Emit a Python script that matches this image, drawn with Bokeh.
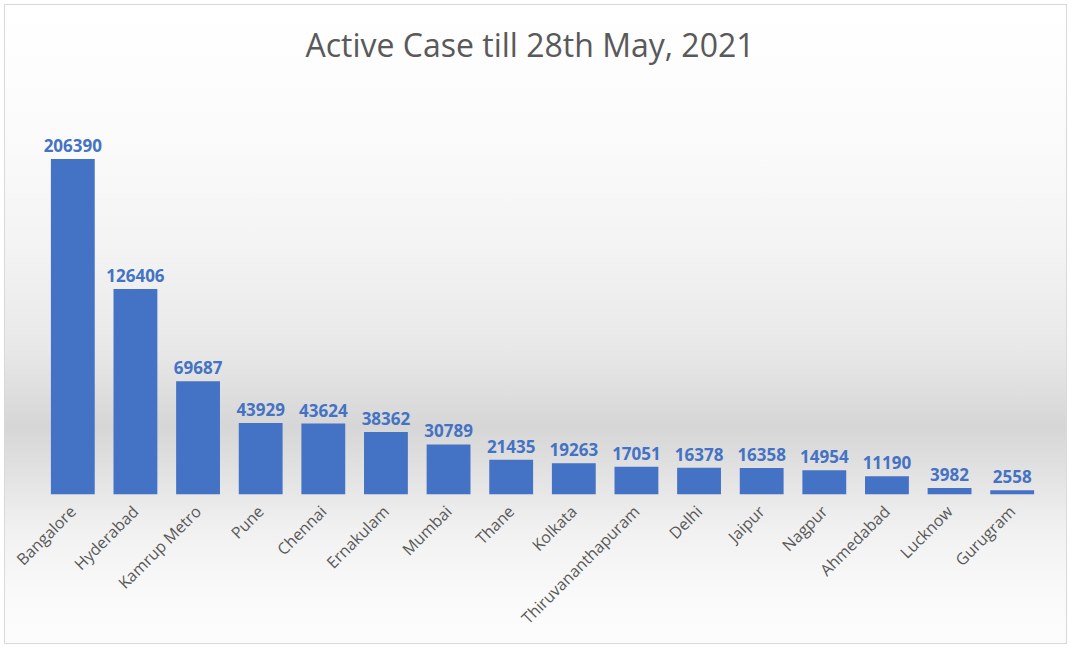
import math
from bokeh.plotting import figure
from bokeh.models import ColumnDataSource, FactorRange, Range1d, LabelSet
from bokeh.core.properties import value
from bokeh.embed import file_html
from bokeh.resources import INLINE

cities = ["Bangalore", "Hyderabad", "Kamrup Metro", "Pune", "Chennai", "Ernakulam",
          "Mumbai", "Thane", "Kolkata", "Thiruvananthapuram", "Delhi", "Jaipur",
          "Nagpur", "Ahmedabad", "Lucknow", "Gurugram"]
active_cases = [206390, 126406, 69687, 43929, 43624, 38362, 30789, 21435,
                19263, 17051, 16378, 16358, 14954, 11190, 3982, 2558]
title_text = "Active Case till 28th May, 2021"

# chart area occupies x 5..1066, y 5..643 of the 1070x652 window
W, H = 1061, 638
FRAME_TOP, FRAME_BOTTOM = 77, 489     # relative to chart area (expected)
FRAME_LEFT, FRAME_RIGHT = 36, 1038

src = ColumnDataSource(dict(city=cities, cases=active_cases,
                            label=[str(v) for v in active_cases]))

ymax = max(active_cases) * (FRAME_BOTTOM - FRAME_TOP) / 334.0

p = figure(width=W, height=H, x_range=FactorRange(factors=cities, range_padding=0),
           y_range=Range1d(0, ymax), output_backend="svg", toolbar_location=None,
           min_border_left=FRAME_LEFT, min_border_right=W - FRAME_RIGHT,
           min_border_top=0, min_border_bottom=H - FRAME_BOTTOM)
p.margin = (5, 4, 9, 5)

p.background_fill_color = None
p.border_fill_color = None
p.outline_line_color = None
p.styles = {
    "background": "linear-gradient(to bottom, #ffffff 0%, #fafafa 22.7%, #f3f3f3 38.4%, "
                  "#e8e8e8 54.1%, #d6d6d6 66.1%, #e4e4e4 74.5%, #f1f1f1 82.3%, "
                  "#fafafa 93.3%, #fcfcfc 100%)",
    "outline": "1px solid #d9d9d9",
}

p.vbar(x="city", top="cases", width=0.7, source=src,
       fill_color="#4472C4", line_color=None)

labels = LabelSet(x="city", y="cases", text="label", source=src,
                  text_align="center", text_baseline="bottom", y_offset=7,
                  text_font=value("Open Sans"), text_font_style="bold",
                  text_font_size="17px", text_color="#4472C4")
p.add_layout(labels)

p.title.text = title_text
p.title.align = "left"
p.title.offset = 264
p.title.text_font = "Open Sans"
p.title.text_font_size = "32px"
p.title.text_font_style = "normal"
p.title.text_color = "#595959"
p.title.standoff = 30

p.yaxis.visible = False
p.xgrid.grid_line_color = None
p.ygrid.grid_line_color = None
p.xaxis.axis_line_color = None
p.xaxis.major_tick_line_color = None
p.xaxis.minor_tick_line_color = None
p.xaxis.major_label_orientation = math.pi / 4
p.xaxis.major_label_text_font = "Open Sans"
p.xaxis.major_label_text_font_size = "16px"
p.xaxis.major_label_text_color = "#595959"
p.xaxis.major_label_standoff = 8

open("out.html", "w").write(file_html(p, INLINE))
